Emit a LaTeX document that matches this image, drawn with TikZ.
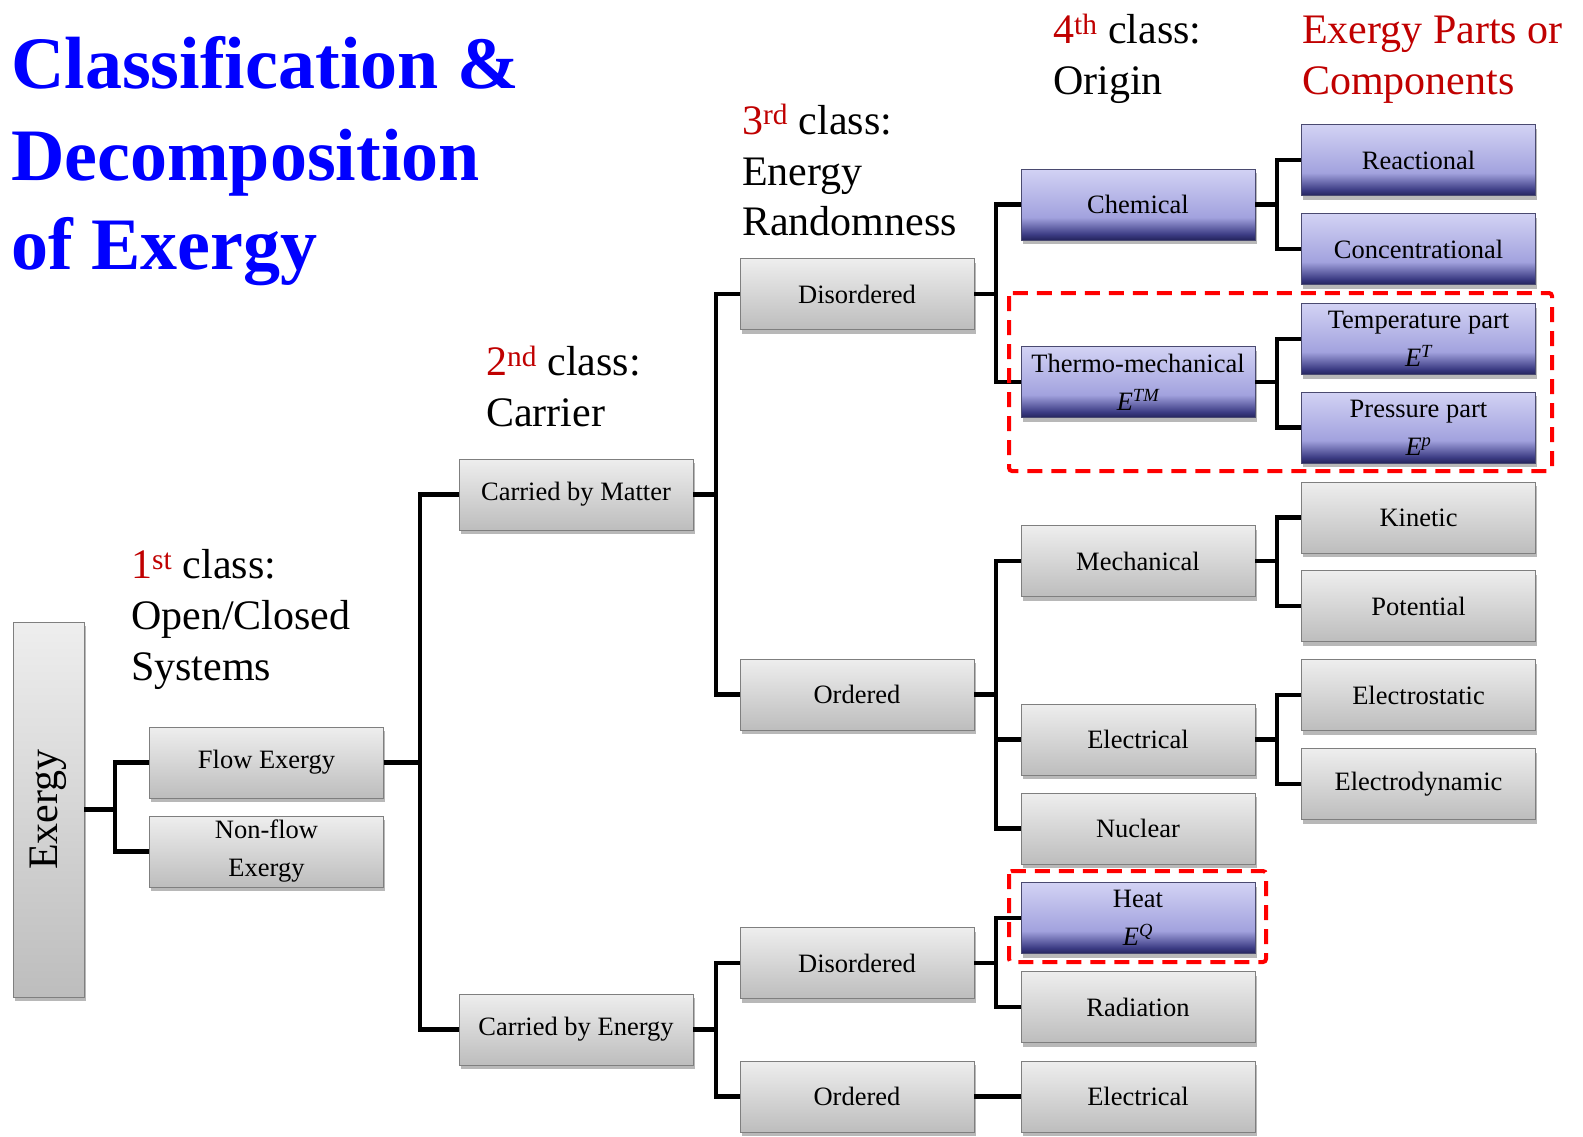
\documentclass[tikz,border=0pt]{standalone}
\usepackage{fontspec}
\setmainfont{Liberation Serif}
\usetikzlibrary{shadows}
\definecolor{gtop}{HTML}{EEEEEE}
\definecolor{gbot}{HTML}{BDBDBD}
\definecolor{btop}{HTML}{D2D2F4}
\definecolor{bmid}{HTML}{A2A2DE}
\definecolor{bdark}{HTML}{3C3C84}
\definecolor{bbot}{HTML}{24245C}
\definecolor{boxgray}{HTML}{7F7F7F}
\definecolor{bborder}{HTML}{4A4A70}
\definecolor{classred}{HTML}{C00000}
\definecolor{titleblue}{HTML}{0000FF}
\definecolor{dashred}{HTML}{FF0000}
\pgfdeclareverticalshading{grayshade}{100bp}{color(0bp)=(gbot); color(25bp)=(gbot); color(75bp)=(gtop); color(100bp)=(gtop)}
\pgfdeclareverticalshading{blueshade}{100bp}{color(0bp)=(bbot); color(25bp)=(bbot); color(29bp)=(bdark); color(41bp)=(bmid); color(75bp)=(btop); color(100bp)=(btop)}
\tikzset{
  box/.style={draw=boxgray, line width=0.9pt, minimum width=234pt, minimum height=71pt,
    inner sep=0pt, shading=grayshade, align=center, font=\fontsize{26.5}{38}\selectfont,
    drop shadow={shadow xshift=1.5pt, shadow yshift=-4pt, opacity=0.28, fill=black}},
  bbox/.style={box, shading=blueshade, draw=bborder},
  conn/.style={line width=4.8pt, black},
  reddash/.style={draw=dashred, line width=4pt, dash pattern=on 15pt off 9pt, rounded corners=3pt},
  titletext/.style={anchor=base west, inner sep=0pt, text=titleblue, font=\bfseries\fontsize{74}{92}\selectfont},
  classtext/.style={anchor=base west, inner sep=0pt, font=\fontsize{42}{51}\selectfont},
}
\begin{document}
\begin{tikzpicture}[x=1pt,y=-1pt]
\useasboundingbox[fill=white] (0,0) rectangle (1583,1136);

% titles
\node[titletext] (t1) at (11,88) {Classification \&};
\node[titletext] (t2) at (11,180) {Decomposition};
\node[titletext] (t3) at (11,269) {of Exergy};

\node[classtext] (c1a) at (131,578.5) {\textcolor{classred}{1\textsuperscript{st}} class:};
\node[classtext] (c1b) at (131,629) {Open/Closed};
\node[classtext] (c1c) at (131,680) {Systems};

\node[classtext] (c2a) at (486,375.5) {\textcolor{classred}{2\textsuperscript{nd}} class:};
\node[classtext] (c2b) at (486,426) {Carrier};

\node[classtext] (c3a) at (742,134) {\textcolor{classred}{3\textsuperscript{rd}} class:};
\node[classtext] (c3b) at (742,185) {Energy};
\node[classtext] (c3c) at (742,235) {Randomness};

\node[classtext] (c4a) at (1053,43.5) {\textcolor{classred}{4\textsuperscript{th}} class:};
\node[classtext] (c4b) at (1053,94) {Origin};

\node[classtext, text=classred] (c5a) at (1302,43.5) {Exergy Parts or};
\node[classtext, text=classred] (c5b) at (1302,94) {Components};

% junction x-positions
\coordinate (j0) at (115,0);
\coordinate (j1) at (420,0);
\coordinate (j2) at (716,0);
\coordinate (j3) at (996,0);
\coordinate (j4) at (1277,0);

% boxes
\node[box, minimum width=71pt, minimum height=375pt] (exergy) at (48.5,809.5) {};
\node[rotate=90, inner sep=0pt, font=\fontsize{42}{50}\selectfont] (exergylbl) at (exergy.center) {Exergy};

\node[box] (flow) at (266.5,762.5) {Flow Exergy};
\node[box] (nonflow) at (266.5,851.5) {Non-flow\\Exergy};

\node[box] (matter) at (576,494.5) {Carried by Matter};
\node[box] (energy) at (576,1029.5) {Carried by Energy};

\node[box] (dis1) at (857,294) {Disordered};
\node[box] (ord1) at (857,694.5) {Ordered};
\node[box] (dis2) at (857,963) {Disordered};
\node[box] (ord2) at (857,1096.5) {Ordered};

\node[bbox] (chem) at (1138,204.5) {Chemical};
\node[bbox] (thermo) at (1138,382) {Thermo-mechanical\\{\itshape E\textsuperscript{TM}}};
\node[box] (mech) at (1138,561) {Mechanical};
\node[box] (elec) at (1138,739.5) {Electrical};
\node[box] (nuc) at (1138,828.5) {Nuclear};
\node[bbox] (heat) at (1138,918) {Heat\\{\itshape E\textsuperscript{Q}}};
\node[box] (rad) at (1138,1007) {Radiation};
\node[box] (elec2) at (1138,1096.5) {Electrical};

\node[bbox] (react) at (1418.5,160) {Reactional};
\node[bbox] (conc) at (1418.5,249) {Concentrational};
\node[bbox] (temp) at (1418.5,339) {Temperature part\\{\itshape E\textsuperscript{T}}};
\node[bbox] (press) at (1418.5,427.5) {Pressure part\\{\itshape E\textsuperscript{p}}};
\node[box] (kin) at (1418.5,517.5) {Kinetic};
\node[box] (pot) at (1418.5,606) {Potential};
\node[box] (estat) at (1418.5,695) {Electrostatic};
\node[box] (edyn) at (1418.5,784) {Electrodynamic};

% connectors
\foreach \p/\j/\c in {exergy/j0/flow, exergy/j0/nonflow,
  flow/j1/matter, flow/j1/energy,
  matter/j2/dis1, matter/j2/ord1, energy/j2/dis2, energy/j2/ord2,
  dis1/j3/chem, dis1/j3/thermo, ord1/j3/mech, ord1/j3/elec, ord1/j3/nuc,
  dis2/j3/heat, dis2/j3/rad,
  chem/j4/react, chem/j4/conc, thermo/j4/temp, thermo/j4/press,
  mech/j4/kin, mech/j4/pot, elec/j4/estat, elec/j4/edyn}
  {\draw[conn] (\p.east) -- (\p.east -| \j) |- (\c.west);}
\draw[conn] (ord2.east) -- (elec2.west);

% dashed highlight frames
\draw[reddash] (1009,293) rectangle (1552,471);
\draw[reddash] (1009,871) rectangle (1266,962);
\end{tikzpicture}
\end{document}
